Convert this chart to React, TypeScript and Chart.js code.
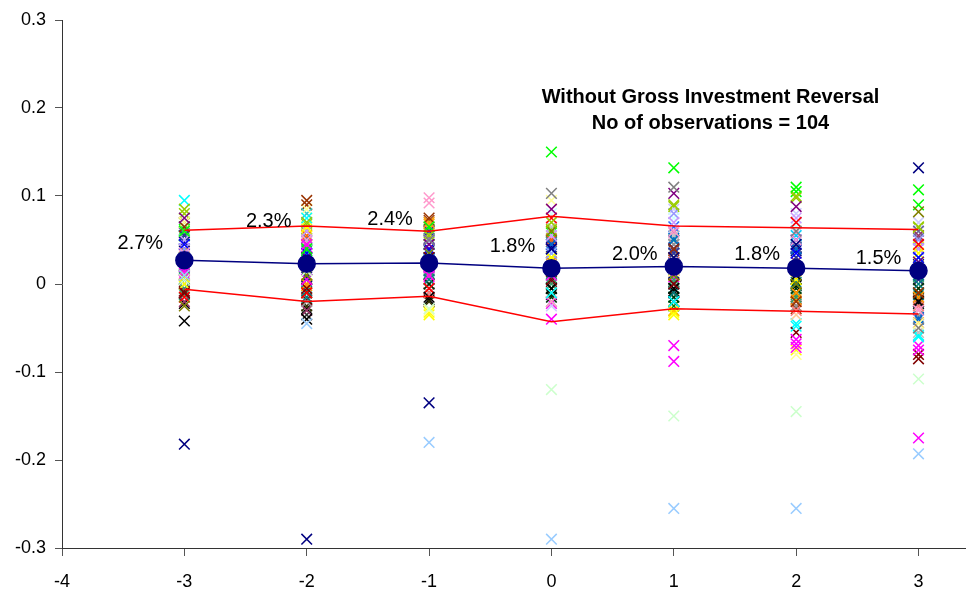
import React, { useEffect, useRef } from 'react';
import { Chart, registerables } from 'chart.js';

Chart.register(...registerables);

const X_CATS = [-3, -2, -1, 0, 1, 2, 3];
const X_TICKS = [-4, -3, -2, -1, 0, 1, 2, 3];
const Y_TICKS = [-0.3, -0.2, -0.1, 0, 0.1, 0.2, 0.3];

const MEAN = [0.027, 0.023, 0.024, 0.018, 0.02, 0.018, 0.015];
const MEAN_LABELS = ['2.7%', '2.3%', '2.4%', '1.8%', '2.0%', '1.8%', '1.5%'];
const UPPER = [0.061, 0.066, 0.06, 0.077, 0.066, 0.064, 0.062];
const LOWER = [-0.006, -0.02, -0.014, -0.043, -0.028, -0.031, -0.034];

const TITLE_LINES = ['Without Gross Investment Reversal', 'No of observations = 104'];

const SERIES_COLORS = [
  '#000080', '#99CCFF', '#CCFFCC', '#FF00FF', '#00FF00', '#808080', '#800080', '#99CC00',
  '#808000', '#00FFFF', '#FF00FF', '#800000', '#993300', '#FF99CC', '#000000', '#FFFF99',
  '#0000FF', '#FF0000', '#FFFF00', '#008080', '#CC99FF', '#9999FF', '#FF9900', '#003300',
  '#339966', '#0066CC', '#FFCC00', '#FF8080', '#333399', '#969696', '#FF6600', '#00CCFF',
  '#FFCC99', '#993366', '#33CCCC', '#C0C0C0', '#3366FF', '#008000', '#333300', '#666699',
  '#003366', '#CCFFFF', '#CCCCFF', '#333333', '#0000FF',
  '#00FFFF', '#FF00FF', '#008080', '#800000', '#FFFF00', '#000080', '#99CC00', '#FF9900',
  '#339966', '#666699', '#993300', '#00FF00', '#0066CC', '#FF99CC', '#000000',
];

const SERIES_VALUES = [
  [-0.182, -0.29, -0.135, 0.04, 0.03, 0.045, 0.132],
  [0.01, -0.045, -0.18, -0.29, -0.255, -0.255, -0.193],
  [0.005, 0.015, -0.028, -0.12, -0.15, -0.145, -0.108],
  [0.02, 0.045, 0.01, -0.04, -0.07, -0.063, -0.175],
  [0.06, 0.04, 0.065, 0.15, 0.132, 0.11, 0.107],
  [0.03, 0.02, 0.05, 0.103, 0.11, 0.06, -0.05],
  [0.075, 0.03, 0.045, 0.085, 0.103, 0.088, 0.025],
  [0.085, 0.07, 0.055, 0.07, 0.09, 0.1, 0.065],
  [-0.025, 0.01, 0.035, 0.06, 0.01, 0.0, 0.082],
  [0.095, 0.075, 0.035, -0.01, -0.02, -0.048, -0.06],
  [0.015, 0.005, 0.02, 0.01, -0.088, -0.072, -0.075],
  [-0.01, -0.005, 0.03, 0.005, 0.0, -0.055, -0.085],
  [0.065, 0.095, 0.075, 0.015, 0.04, -0.02, -0.01],
  [0.035, 0.05, 0.098, -0.02, 0.06, 0.05, -0.03],
  [-0.042, -0.04, -0.015, -0.005, -0.005, 0.01, -0.02],
  [0.07, 0.085, -0.03, 0.095, 0.015, -0.08, -0.045],
  [0.045, 0.035, 0.04, 0.04, 0.04, 0.035, 0.03],
  [-0.015, -0.01, -0.005, 0.075, 0.015, 0.07, 0.045],
  [0.0, 0.065, -0.035, 0.03, -0.035, 0.005, 0.035],
  [0.025, -0.015, 0.005, 0.02, -0.01, 0.0, 0.0],
  [0.05, 0.06, 0.05, 0.055, 0.07, 0.075, 0.04],
  [0.04, 0.025, 0.045, 0.035, 0.08, 0.07, 0.05],
  [0.01, 0.0, 0.07, 0.025, 0.03, -0.01, -0.015],
  [0.005, -0.01, 0.0, -0.015, -0.015, -0.005, -0.005],
  [-0.005, 0.01, 0.015, 0.0, 0.005, -0.015, 0.01],
  [0.02, 0.04, 0.025, 0.045, 0.05, 0.04, -0.04],
  [0.03, 0.045, 0.01, 0.03, -0.03, 0.015, 0.02],
  [0.015, 0.0, -0.01, 0.01, 0.025, -0.03, -0.025],
  [0.055, 0.03, 0.06, 0.045, 0.035, 0.03, 0.005],
  [0.0, -0.02, 0.02, -0.02, 0.045, -0.025, -0.035],
  [0.025, 0.055, 0.04, 0.05, 0.02, -0.01, 0.015],
  [0.065, 0.05, 0.045, 0.005, 0.03, 0.055, 0.025],
  [0.045, 0.015, 0.005, -0.01, 0.01, -0.035, -0.05],
  [-0.02, -0.03, -0.005, 0.025, 0.0, 0.025, 0.055],
  [0.05, 0.08, 0.02, 0.01, 0.035, 0.02, 0.03],
  [0.06, 0.02, 0.055, 0.065, 0.055, 0.045, -0.055],
  [0.035, 0.045, 0.015, 0.04, 0.065, 0.05, 0.04],
  [0.055, 0.01, 0.03, -0.005, -0.025, -0.01, 0.005],
  [0.01, -0.025, -0.02, -0.01, -0.005, 0.005, -0.01],
  [0.04, 0.06, 0.05, 0.05, 0.06, 0.04, 0.06],
  [0.03, 0.005, 0.0, 0.015, -0.02, 0.03, -0.02],
  [0.075, 0.07, 0.07, 0.08, 0.075, 0.065, 0.055],
  [0.02, 0.025, 0.06, -0.025, 0.085, 0.08, 0.07],
  [-0.01, -0.035, -0.01, -0.005, 0.0, 0.01, -0.015],
  [0.04, 0.03, 0.035, 0.02, 0.035, 0.05, 0.01],
  [0.055, 0.035, 0.028, 0.035, -0.015, -0.045, -0.058],
  [0.012, 0.042, 0.008, -0.022, 0.008, -0.068, -0.07],
  [0.018, -0.008, 0.012, 0.012, -0.02, 0.002, -0.012],
  [-0.008, -0.018, 0.025, 0.003, -0.01, -0.025, -0.08],
  [0.008, 0.062, -0.032, 0.028, -0.032, -0.075, 0.042],
  [0.048, 0.008, 0.038, 0.042, 0.012, 0.038, 0.022],
  [0.08, 0.068, 0.058, 0.062, 0.088, 0.098, 0.064],
  [0.038, -0.002, 0.068, 0.022, -0.03, -0.018, -0.044],
  [-0.012, 0.005, 0.018, 0.007, 0.002, -0.012, 0.008],
  [0.058, 0.052, 0.052, 0.048, 0.045, 0.042, 0.052],
  [0.07, 0.09, 0.072, 0.018, 0.038, -0.028, -0.018],
  [0.062, 0.038, 0.062, 0.058, 0.05, 0.105, 0.09],
  [0.022, 0.038, 0.022, 0.048, 0.052, 0.042, -0.038],
  [0.032, 0.048, 0.092, 0.052, 0.058, 0.058, -0.028],
  [-0.022, -0.028, -0.018, -0.012, -0.008, -0.002, -0.022],
];

// label offsets from each mean point (pixels) – styling only
const LABEL_OFFSETS = [
  [-44, -17], [-38, -42], [-39, -43], [-39, -22], [-39, -12], [-39, -14], [-40, -12],
];

const FONT = '"Liberation Sans", Arial, sans-serif';

const toPoints = (vals: number[]) => vals.map((v, i) => ({ x: X_CATS[i], y: v }));

export default function App() {
  const ref = useRef<HTMLCanvasElement | null>(null);

  useEffect(() => {
    document.body.style.margin = '0';
    const canvas = ref.current;
    if (!canvas) return;

    const overlay = {
      id: 'overlay',
      afterDatasetsDraw(chart: any) {
        const ctx = chart.ctx;
        const meta = chart.getDatasetMeta(0);
        ctx.save();
        ctx.fillStyle = '#000';
        ctx.font = `20px ${FONT}`;
        ctx.textAlign = 'center';
        ctx.textBaseline = 'middle';
        meta.data.forEach((el: any, i: number) => {
          const [dx, dy] = LABEL_OFFSETS[i];
          ctx.fillText(MEAN_LABELS[i], el.x + dx, el.y + dy);
        });
        const xs = chart.scales.x;
        const ys = chart.scales.y;
        ctx.font = `bold 20px ${FONT}`;
        const cx = xs.getPixelForValue(1.3);
        ctx.fillText(TITLE_LINES[0], cx, ys.getPixelForValue(0.2125));
        ctx.fillText(TITLE_LINES[1], cx, ys.getPixelForValue(0.182));
        ctx.restore();
      },
    };

    const scatterSets = SERIES_VALUES.map((vals, k) => ({
      data: toPoints(vals),
      showLine: false,
      pointStyle: 'crossRot',
      pointRadius: 7.5,
      pointBorderWidth: 1.5,
      borderColor: SERIES_COLORS[k],
      backgroundColor: SERIES_COLORS[k],
    }));

    const chart = new Chart(canvas, {
      type: 'scatter',
      data: {
        datasets: [
          {
            data: toPoints(MEAN),
            showLine: true,
            borderColor: '#000080',
            backgroundColor: '#000080',
            borderWidth: 1.5,
            pointRadius: 8.5,
            pointStyle: 'circle',
            pointBackgroundColor: '#000080',
            pointBorderColor: '#000080',
          },
          {
            data: toPoints(UPPER),
            showLine: true,
            borderColor: '#FF0000',
            borderWidth: 1.5,
            pointRadius: 0,
          },
          {
            data: toPoints(LOWER),
            showLine: true,
            borderColor: '#FF0000',
            borderWidth: 1.5,
            pointRadius: 0,
          },
          ...scatterSets,
        ] as any,
      },
      options: {
        animation: false,
        responsive: false,
        events: [],
        layout: { autoPadding: false, padding: { top: 20, right: 2, left: 0, bottom: 0 } },
        plugins: { legend: { display: false }, tooltip: { enabled: false }, title: { display: false } },
        scales: {
          x: {
            type: 'linear',
            min: -4,
            max: 3.38,
            afterBuildTicks: (s: any) => { s.ticks = X_TICKS.map((v) => ({ value: v })); },
            afterFit: (s: any) => { s.height = 44; },
            grid: { drawOnChartArea: false, drawTicks: true, tickLength: 8, color: '#555' },
            border: { display: true, color: '#333', width: 1 },
            ticks: {
              color: '#000',
              font: { family: FONT, size: 18 },
              padding: 15,
              maxRotation: 0,
              callback: (v: any) => String(v),
            },
          },
          y: {
            type: 'linear',
            min: -0.3,
            max: 0.3,
            afterBuildTicks: (s: any) => { s.ticks = Y_TICKS.map((v) => ({ value: v })); },
            afterFit: (s: any) => { s.width = 62; },
            grid: { drawOnChartArea: false, drawTicks: true, tickLength: 7, color: '#555' },
            border: { display: true, color: '#333', width: 1 },
            ticks: {
              color: '#000',
              font: { family: FONT, size: 18 },
              padding: 9,
              callback: (v: any) => (Math.abs(v) < 1e-9 ? '0' : Number(v).toFixed(1)),
            },
          },
        },
      } as any,
      plugins: [overlay],
    });

    return () => chart.destroy();
  }, []);

  return (
    <div style={{ position: 'absolute', left: 0, top: 0, width: 967, height: 592 }}>
      <canvas ref={ref} width={967} height={592} style={{ display: 'block' }} />
    </div>
  );
}
